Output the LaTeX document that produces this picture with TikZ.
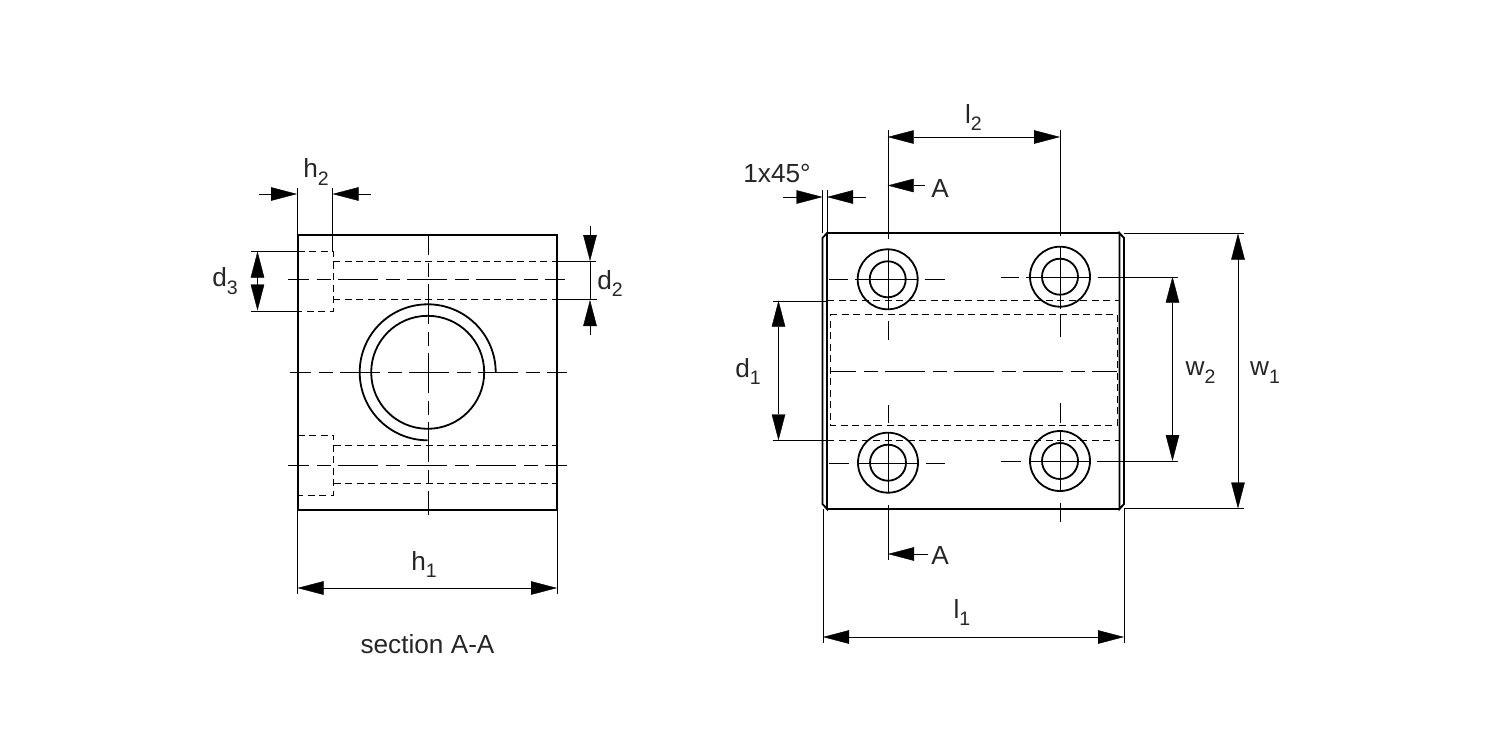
\documentclass[tikz,border=0pt]{standalone}
\usepackage{fontspec}
\setmainfont{Liberation Sans}
\usetikzlibrary{arrows.meta}
\definecolor{thin}{HTML}{606060}
\newcommand{\lab}[2]{#1\raisebox{-0.3em}{\fontsize{19.5}{19.5}\selectfont #2}}
\tikzset{
  obj/.style={line width=2pt,black},
  arcs/.style={line width=1.8pt,black},
  fine/.style={line width=1pt,thin},
  hid/.style={line width=1pt,thin,dash pattern=on 7pt off 4.5pt},
  cl/.style={line width=1pt,thin,dash pattern=on 40pt off 8pt on 14pt off 7pt},
  tip/.tip={Triangle[length=26pt,width=13.5pt,black]},
  dimboth/.style={fine,{tip}-{tip}},
  dimend/.style={fine,-{tip}},
  txt/.style={font=\fontsize{26.2}{26.2}\selectfont,inner sep=0pt,black!85},
}
\begin{document}
\begin{tikzpicture}[x=1pt,y=-1pt]
\useasboundingbox (0,0) rectangle (1500,750);
\fill[white] (0,0) rectangle (1500,750);
% ---- left view: hidden lines
\draw[hid] (297.5,251)--(333,251)--(333,311)--(297.5,311);
\draw[hid] (333,261.3)--(557,261.3) (333,299.5)--(557,299.5);
\draw[hid] (297.5,434.7)--(333.5,434.7)--(333.5,494.7)--(297.5,494.7);
\draw[hid] (333.5,445.3)--(557,445.3) (333.5,483.3)--(557,483.3);
% centre lines
\draw[cl,dash phase=19] (288,279.3)--(565,279.3);
\draw[cl,dash phase=19] (288,464.7)--(567,464.7);
\draw[cl,dash phase=19] (290,372.3)--(567,372.3);
\draw[cl,dash phase=20] (428,235)--(428,515);
% outline and bush
\draw[obj] (297.5,234.5) rectangle (557,510);
\draw[arcs] (427.7,372.3) circle[radius=56.5];
\draw[arcs] (495.7,372.3) arc[start angle=0,end angle=-270,radius=68];
% dims left view
\draw[fine] (297,188)--(297,234) (332.5,188)--(332.5,251);
\draw[dimend] (259,194)--(297,194);
\draw[dimend] (371,194)--(332.5,194);
\draw[fine] (251,251)--(297,251) (251,311)--(297,311);
\draw[fine] (257.5,270)--(257.5,290);
\draw[dimend] (257.5,278)--(257.5,251.5);
\draw[dimend] (257.5,284)--(257.5,310.5);
\draw[fine] (557,261.3)--(596,261.3) (557,299.5)--(597,299.5);
\draw[dimend] (590,226)--(590,261);
\draw[dimend] (590,335)--(590,300);
\draw[fine] (590,261)--(590,300);
\draw[fine] (297.5,510)--(297.5,594) (557,510)--(557,594);
\draw[dimboth] (297.5,588)--(557,588);
\node[txt] (th2) at (316,172) {\lab{h}{2}};
\node[txt] (td3) at (225,281.5) {\lab{d}{3}};
\node[txt] (td2) at (610,283.5) {\lab{d}{2}};
\node[txt] (th1) at (424,564.5) {\lab{h}{1}};
\node[txt] (tsec) at (427.5,644.5) {section A-A};
% ---- right view: hidden lines
\draw[hid] (827,300.5)--(1120,300.5) (827,440)--(1120,440);
\draw[hid] (830,314.5)--(1117,314.5)--(1117,425)--(830,425)--cycle;
\draw[cl,dash phase=14] (830,371)--(1117,371);
% hole centre lines
\draw[fine] (829,279.3)--(848,279.3) (855,279.3)--(918,279.3) (925,279.3)--(945,279.3);
\draw[fine] (829,462.7)--(849,462.7) (857,462.7)--(918,462.7) (926,462.7)--(945,462.7);
\draw[fine] (887.7,130)--(887.7,239) (887.7,249)--(887.7,310) (887.7,321)--(887.7,340);
\draw[fine] (887.7,405)--(887.7,423) (887.7,433)--(887.7,492) (887.7,505)--(887.7,560);
\draw[fine] (1060,130)--(1060,236) (1060,247)--(1060,309) (1060,315)--(1060,337);
\draw[fine] (1060,403)--(1060,423) (1060,432)--(1060,492) (1060,503)--(1060,522);
\draw[fine] (1001,276.7)--(1019,276.7) (1026,276.7)--(1090,276.7) (1098,276.7)--(1178,276.7);
\draw[fine] (1001,461)--(1021,461) (1030,461)--(1090,461) (1097,461)--(1178,461);
% outline
\draw[obj] (827,233)--(1119.5,233) (827,509)--(1119.5,509);
\draw[arcs] (822.5,238)--(827,233)--(827,509)--(822.5,504)--cycle;
\draw[arcs] (1124,238)--(1119.5,233)--(1119.5,509)--(1124,504)--cycle;
% holes
\foreach \cx/\cy in {887.7/279.3,1060/276.7,888/462.7,1060/461}{
  \draw[arcs] (\cx,\cy) circle[radius=30];
  \draw[arcs] (\cx,\cy) circle[radius=18];
}
% dims right view
\draw[dimboth] (887.7,137)--(1060,137);
\draw[fine] (822.5,190)--(822.5,233) (827,190)--(827,233);
\draw[dimend] (783,197)--(822.5,197);
\draw[dimend] (866,197)--(827,197);
\draw[dimend] (925,185.5)--(887.7,185.5);
\draw[dimend] (928,554)--(888,554);
\draw[fine] (773,300.7)--(827,300.7) (773,440.3)--(827,440.3);
\draw[dimboth] (778.5,300.7)--(778.5,440.3);
\draw[dimboth] (1172.5,276.7)--(1172.5,461);
\draw[fine] (1124,233.5)--(1244,233.5) (1124,508.5)--(1244,508.5);
\draw[dimboth] (1238,233.5)--(1238,508.5);
\draw[fine] (823,509)--(823,643) (1124,509)--(1124,643);
\draw[dimboth] (823,637)--(1124,637);
\node[txt] (tl2) at (973.5,117.5) {\lab{l}{2}};
\node[txt] (tch) at (777,173.5) {1x45°};
\node[txt] (tA1) at (940,188.5) {A};
\node[txt] (tA2) at (940,555.5) {A};
\node[txt] (td1) at (748,371.5) {\lab{d}{1}};
\node[txt] (tw2) at (1200.5,372.5) {\lab{w}{2}};
\node[txt] (tw1) at (1265,372.5) {\lab{w}{1}};
\node[txt] (tl1) at (962,612.5) {\lab{l}{1}};
\end{tikzpicture}
\end{document}
